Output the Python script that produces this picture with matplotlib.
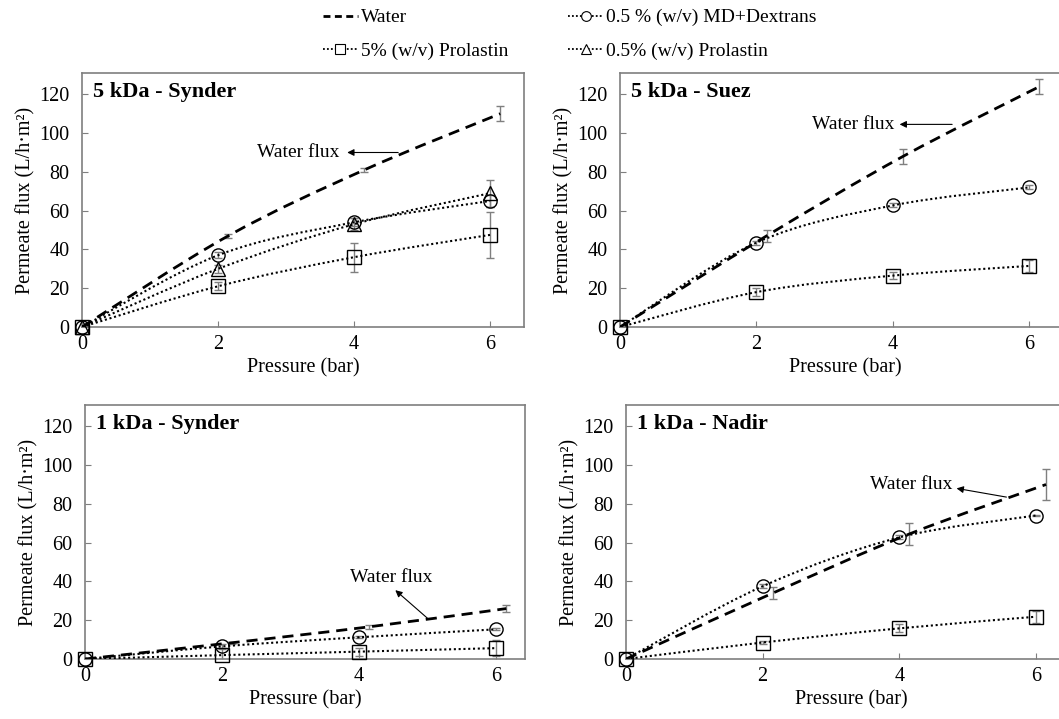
import numpy as np
import matplotlib.pyplot as plt
from matplotlib.path import Path
from matplotlib.patches import PathPatch
from matplotlib.lines import Line2D

plt.rcParams['font.family'] = ['Liberation Serif', 'DejaVu Serif']

# Pressure points (bar); water error bars were drawn slightly offset
pressure = [0, 2, 4, 6]
pressure_water = [0, 2.15, 4.15, 6.15]

# 5 kDa - Synder
syn5_water = [0, 47, 81, 110]
syn5_water_err = [0, 1, 1, 4]
syn5_md = [0, 37, 54, 65]
syn5_md_err = [0, 1.5, 2, 3]
syn5_pro5 = [0, 21, 36, 47.5]
syn5_pro5_err = [0, 2, 7.5, 12]
syn5_pro05 = [0, 30, 53, 69]
syn5_pro05_err = [0, 2, 3, 7]

# 5 kDa - Suez
suez5_water = [0, 47, 88, 124]
suez5_water_err = [0, 3, 4, 4]
suez5_md = [0, 43.5, 62.7, 72]
suez5_md_err = [0, 1, 1, 1]
suez5_pro5 = [0, 18, 26.5, 31.5]
suez5_pro5_err = [0, 2, 2, 3]

# 1 kDa - Synder
syn1_water = [0, 8.4, 16.6, 26]
syn1_water_err = [0, 0.5, 1, 2]
syn1_md = [0, 6.5, 11.2, 15.3]
syn1_md_err = [0, 1, 0.5, 0.5]
syn1_pro5 = [0, 2, 3.8, 5.6]
syn1_pro5_err = [0, 3, 2, 4]

# 1 kDa - Nadir
nad1_water = [0, 34, 64.5, 90]
nad1_water_err = [0, 3, 5.5, 8]
nad1_md = [0, 37.5, 62.7, 74]
nad1_md_err = [0, 1, 1, 0.5]
nad1_pro5 = [0, 8.5, 15.8, 21.8]
nad1_pro5_err = [0, 1, 2, 3]

labels = ['Water', '0.5 % (w/v) MD+Dextrans', '5% (w/v) Prolastin', '0.5% (w/v) Prolastin']
grey = '#7f7f7f'


def smooth_curve(ax, x, y, **kw):
    # Excel-like smoothed line: Catmull-Rom segments as cubic Bezier
    x = np.asarray(x, float)
    y = np.asarray(y, float)
    pts = np.column_stack([x, y])
    verts = [pts[0]]
    codes = [Path.MOVETO]
    n = len(pts)
    for i in range(n - 1):
        p0 = pts[max(i - 1, 0)]
        p1 = pts[i]
        p2 = pts[i + 1]
        p3 = pts[min(i + 2, n - 1)]
        c1 = p1 + (p2 - p0) / 6
        c2 = p2 - (p3 - p1) / 6
        verts += [c1, c2, p2]
        codes += [Path.CURVE4] * 3
    ax.add_patch(PathPatch(Path(verts, codes), fill=False, **kw))


def draw_panel(ax, title, water, water_err, series, annot):
    smooth_curve(ax, pressure_water, water, edgecolor='black', lw=2.0,
                 linestyle=(0, (4, 2.5)), zorder=3)
    ax.errorbar(pressure_water[1:], water[1:], yerr=water_err[1:], fmt='none',
                ecolor=grey, elinewidth=1, capsize=3, capthick=1, zorder=2)
    for vals, errs, marker in series:
        smooth_curve(ax, pressure, vals, edgecolor='black', lw=1.5,
                     linestyle=(0, (1, 1.3)), zorder=3)
        ax.errorbar(pressure, vals, yerr=errs, fmt='none', ecolor=grey,
                    elinewidth=1, capsize=3, capthick=1, zorder=2)
        ax.plot(pressure, vals, linestyle='none', marker=marker, markersize=9.5,
                markerfacecolor='none', markeredgecolor='black',
                markeredgewidth=1, zorder=4, clip_on=False)
    ax.set_ylim(0, 131)
    ax.set_yticks(range(0, 121, 20))
    ax.set_xticks([0, 2, 4, 6])
    ax.tick_params(direction='in', length=4, color=grey, labelsize=14.5)
    ax.tick_params(axis='y', pad=9)
    ax.tick_params(axis='x', pad=6)
    for sp in ax.spines.values():
        sp.set_color(grey)
        sp.set_linewidth(1.2)
    ax.set_xlabel('Pressure (bar)', fontsize=14.5, labelpad=3)
    ax.set_ylabel('Permeate flux (L/h·m²)', fontsize=14.5, labelpad=3)
    ax.text(0.025, 0.965, title, transform=ax.transAxes, fontsize=16,
            fontweight='bold', va='top', ha='left')
    (tx, ty), (ax0, ay0), (ax1, ay1), ha = annot
    ax.text(tx, ty, 'Water flux', fontsize=14, ha=ha, va='center')
    ax.annotate('', xy=(ax1, ay1), xytext=(ax0, ay0),
                arrowprops=dict(arrowstyle='-|>', color='black', lw=0.8,
                                mutation_scale=10, shrinkA=0, shrinkB=0))


fig = plt.figure(figsize=(10.59, 7.19), dpi=100)
W, H = 1059, 719


def axes_px(left, top, bottom, px_per_unit, xmax):
    width = px_per_unit * xmax
    return fig.add_axes([left / W, 1 - bottom / H, width / W, (bottom - top) / H])


ax1 = axes_px(82, 73, 327, 68.0, 6.5)
ax1.set_xlim(0, 6.5)
draw_panel(ax1, '5 kDa - Synder', syn5_water, syn5_water_err,
           [(syn5_md, syn5_md_err, 'o'), (syn5_pro5, syn5_pro5_err, 's'),
            (syn5_pro05, syn5_pro05_err, '^')],
           ((3.78, 90), (4.65, 90), (3.9, 90), 'right'))

ax2 = axes_px(620, 73, 327, 68.2, 6.6)
ax2.set_xlim(0, 6.6)
draw_panel(ax2, '5 kDa - Suez', suez5_water, suez5_water_err,
           [(suez5_md, suez5_md_err, 'o'), (suez5_pro5, suez5_pro5_err, 's')],
           ((4.03, 104.5), (4.87, 104.5), (4.1, 104.5), 'right'))

ax3 = axes_px(85, 405, 659, 68.5, 6.42)
ax3.set_xlim(0, 6.42)
draw_panel(ax3, '1 kDa - Synder', syn1_water, syn1_water_err,
           [(syn1_md, syn1_md_err, 'o'), (syn1_pro5, syn1_pro5_err, 's')],
           ((4.47, 42), (5.0, 21), (4.53, 35.5), 'center'))

ax4 = axes_px(626, 405, 659, 68.3, 6.6)
ax4.set_xlim(0, 6.6)
draw_panel(ax4, '1 kDa - Nadir', nad1_water, nad1_water_err,
           [(nad1_md, nad1_md_err, 'o'), (nad1_pro5, nad1_pro5_err, 's')],
           ((4.78, 90), (5.57, 83.5), (4.84, 88), 'right'))

handles = [
    Line2D([], [], color='black', lw=2.0, linestyle=(0, (2.5, 1.6))),
    Line2D([], [], color='black', lw=1.3, linestyle=(0, (1, 1.2)), marker='s',
           markersize=7, markerfacecolor='white', markeredgecolor='black', markeredgewidth=0.8),
    Line2D([], [], color='black', lw=1.3, linestyle=(0, (1, 1.2)), marker='o',
           markersize=7, markerfacecolor='white', markeredgecolor='black', markeredgewidth=0.8),
    Line2D([], [], color='black', lw=1.3, linestyle=(0, (1, 1.2)), marker='^',
           markersize=7, markerfacecolor='white', markeredgecolor='black', markeredgewidth=0.8),
]
leg_labels = [labels[0], labels[2], labels[1], labels[3]]
fig.legend(handles, leg_labels, loc='upper left', bbox_to_anchor=(314 / W, 1.0),
           ncol=2, frameon=False, fontsize=14, handlelength=1.8,
           handletextpad=0.15, columnspacing=3.1, labelspacing=0.8,
           borderaxespad=0.05)

fig.savefig('out.png', dpi=100)
